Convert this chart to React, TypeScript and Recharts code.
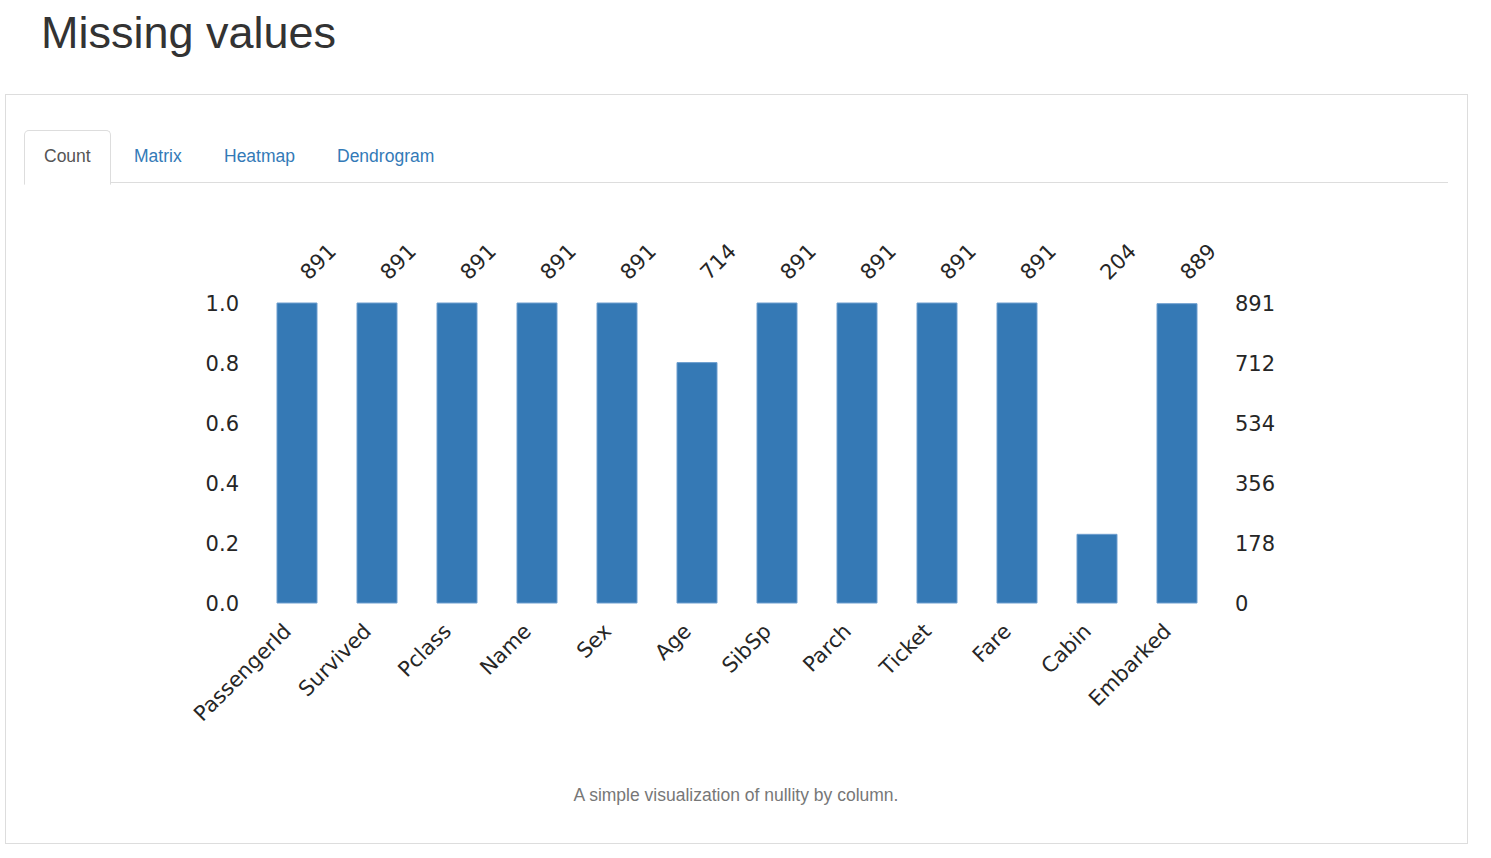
import React from "react";
import { ComposedChart, Bar, Line, XAxis, YAxis } from "recharts";

const columns = ["PassengerId", "Survived", "Pclass", "Name", "Sex", "Age", "SibSp", "Parch", "Ticket", "Fare", "Cabin", "Embarked"];
const counts = [891, 891, 891, 891, 891, 714, 891, 891, 891, 891, 204, 889];
const totalRows = 891;
const leftTicks = [0, 0.2, 0.4, 0.6, 0.8, 1.0];
const leftTickLabels = ["0.0", "0.2", "0.4", "0.6", "0.8", "1.0"];
const rightTickLabels = ["0", "178", "356", "534", "712", "891"];
const tabs = ["Count", "Matrix", "Heatmap", "Dendrogram"];
const tabX = [44, 134, 224, 337];

const data = columns.map((name, i) => ({ name, count: counts[i], fraction: counts[i] / totalRows }));

const CHART_FONT = "'DejaVu Sans', sans-serif";
const HTML_FONT = "'Liberation Sans', Arial, Helvetica, sans-serif";
const TEXT_COLOR = "#262626";

const BottomTick = (props: any) => {
  const { x, y, payload } = props;
  const ax = x - 4.5;
  const ay = y + 29.5;
  return (
    <text x={ax} y={ay} transform={`rotate(-45, ${ax}, ${ay})`} textAnchor="end" fontFamily={CHART_FONT} fontSize={21} fill={TEXT_COLOR}>
      {payload.value}
    </text>
  );
};

const TopTick = (props: any) => {
  const { x, y, payload } = props;
  const idx = props.index ?? payload.index;
  const ax = x + 12;
  const ay = y - 22;
  return (
    <text x={ax} y={ay} transform={`rotate(-45, ${ax}, ${ay})`} textAnchor="start" fontFamily={CHART_FONT} fontSize={21} fill={TEXT_COLOR}>
      {counts[idx]}
    </text>
  );
};

const tickStyle = { fontFamily: CHART_FONT, fontSize: 21, fill: TEXT_COLOR, dy: 1 };

export default function App() {
  return (
    <div style={{ position: "absolute", left: 0, top: 0, width: 1491, height: 858, background: "#fff", fontFamily: HTML_FONT }}>
      <div style={{ position: "absolute", left: 41, top: 10.4, fontSize: 45, lineHeight: "45px", color: "#333", whiteSpace: "nowrap" }}>
        Missing values
      </div>
      <div style={{ position: "absolute", left: 5, top: 94, width: 1461, height: 748, border: "1px solid #ddd" }} />
      <div style={{ position: "absolute", left: 24, top: 182, width: 1424, height: 1, background: "#ddd" }} />
      <div
        style={{
          position: "absolute",
          left: 24,
          top: 130,
          width: 85,
          height: 53,
          border: "1px solid #ddd",
          borderBottom: "1px solid #fff",
          borderRadius: "5px 5px 0 0",
          background: "#fff",
        }}
      />
      {tabs.map((t, i) => (
        <div
          key={t}
          style={{
            position: "absolute",
            left: tabX[i],
            top: 147.7,
            fontSize: 17.5,
            lineHeight: "17.5px",
            color: i === 0 ? "#555" : "#337ab7",
            whiteSpace: "nowrap",
          }}
        >
          {t}
        </div>
      ))}
      <div style={{ position: "absolute", left: 157, top: 223 }}>
        <ComposedChart width={1180} height={540} data={data} margin={{ top: 20, right: 20, bottom: 20, left: 20 }} barCategoryGap="25%">
          <XAxis dataKey="name" xAxisId="bottom" orientation="bottom" height={140} interval={0} axisLine={false} tickLine={false} tickSize={0} tickMargin={0} tick={<BottomTick />} />
          <XAxis dataKey="name" xAxisId="top" orientation="top" height={60} interval={0} axisLine={false} tickLine={false} tickSize={0} tickMargin={0} tick={<TopTick />} />
          <YAxis
            yAxisId="left"
            orientation="left"
            width={80}
            domain={[0, 1]}
            ticks={leftTicks}
            interval={0}
            axisLine={false}
            tickLine={false}
            tickSize={0}
            tickMargin={18}
            tick={tickStyle}
            tickFormatter={(v: number, i: number) => leftTickLabels[i]}
          />
          <YAxis
            yAxisId="right"
            orientation="right"
            width={100}
            domain={[0, 1]}
            ticks={leftTicks}
            interval={0}
            axisLine={false}
            tickLine={false}
            tickSize={0}
            tickMargin={18}
            tick={tickStyle}
            tickFormatter={(v: number, i: number) => rightTickLabels[i]}
          />
          <Bar dataKey="fraction" xAxisId="bottom" yAxisId="left" fill="#3579b5" stroke="#6f9fcf" strokeWidth={1} isAnimationActive={false} />
          <Line dataKey="fraction" xAxisId="top" yAxisId="right" stroke="none" dot={false} activeDot={false} legendType="none" isAnimationActive={false} />
        </ComposedChart>
      </div>
      <div style={{ position: "absolute", left: 5, width: 1462, top: 787, fontSize: 17.5, lineHeight: "17.5px", color: "#777", textAlign: "center", whiteSpace: "nowrap" }}>
        A simple visualization of nullity by column.
      </div>
    </div>
  );
}
